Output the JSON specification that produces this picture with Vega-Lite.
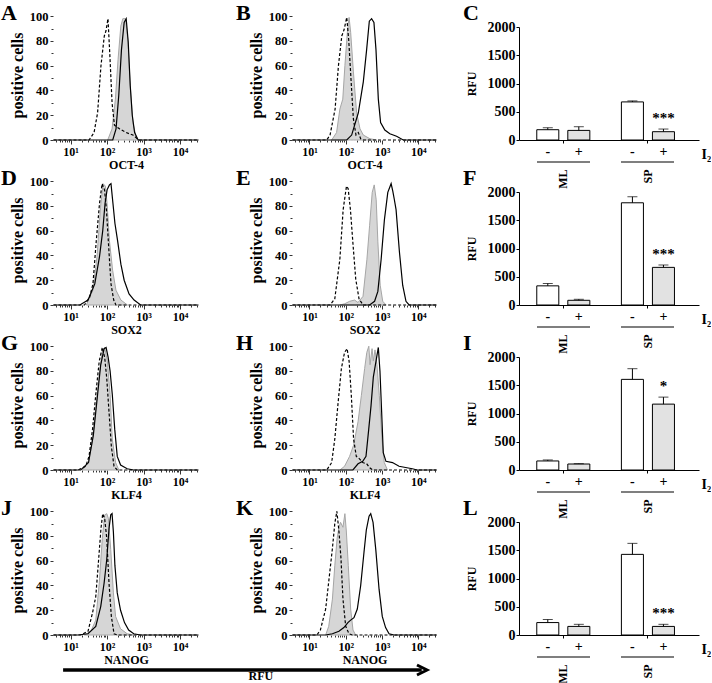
{
"$schema":"https://vega.github.io/schema/vega-lite/v6.json",
"padding":{"left":1,"top":2,"right":0,"bottom":0},
"datasets":{
"hist":[
{"p":"A","s":"d","x":3.4,"y":0},{"p":"A","s":"d","x":32,"y":0},{"p":"A","s":"d","x":44,"y":6},{"p":"A","s":"d","x":55,"y":22},{"p":"A","s":"d","x":68,"y":60},{"p":"A","s":"d","x":84,"y":84},{"p":"A","s":"d","x":93,"y":88},{"p":"A","s":"d","x":106,"y":98},{"p":"A","s":"d","x":118,"y":71},{"p":"A","s":"d","x":137,"y":30},{"p":"A","s":"d","x":159,"y":12},{"p":"A","s":"d","x":219,"y":9},{"p":"A","s":"d","x":334,"y":6},{"p":"A","s":"d","x":510,"y":4},{"p":"A","s":"d","x":747,"y":0},{"p":"A","s":"d","x":32000,"y":0},
{"p":"A","s":"g","x":104,"y":0},{"p":"A","s":"g","x":137,"y":9},{"p":"A","s":"g","x":169,"y":33},{"p":"A","s":"g","x":200,"y":65},{"p":"A","s":"g","x":238,"y":92},{"p":"A","s":"g","x":270,"y":98},{"p":"A","s":"g","x":320,"y":98},{"p":"A","s":"g","x":371,"y":81},{"p":"A","s":"g","x":431,"y":44},{"p":"A","s":"g","x":510,"y":14},{"p":"A","s":"g","x":631,"y":2},{"p":"A","s":"g","x":747,"y":0},
{"p":"A","s":"s","x":3.4,"y":0},{"p":"A","s":"s","x":143,"y":0},{"p":"A","s":"s","x":176,"y":9},{"p":"A","s":"s","x":209,"y":36},{"p":"A","s":"s","x":248,"y":73},{"p":"A","s":"s","x":294,"y":95},{"p":"A","s":"s","x":334,"y":98},{"p":"A","s":"s","x":380,"y":79},{"p":"A","s":"s","x":431,"y":44},{"p":"A","s":"s","x":490,"y":20},{"p":"A","s":"s","x":568,"y":6},{"p":"A","s":"s","x":709,"y":0},{"p":"A","s":"s","x":32000,"y":0},
{"p":"B","s":"d","x":3.4,"y":0},{"p":"B","s":"d","x":30,"y":0},{"p":"B","s":"d","x":37,"y":4},{"p":"B","s":"d","x":51,"y":25},{"p":"B","s":"d","x":63,"y":60},{"p":"B","s":"d","x":78,"y":84},{"p":"B","s":"d","x":90,"y":89},{"p":"B","s":"d","x":107,"y":99},{"p":"B","s":"d","x":121,"y":81},{"p":"B","s":"d","x":140,"y":49},{"p":"B","s":"d","x":163,"y":17},{"p":"B","s":"d","x":192,"y":4},{"p":"B","s":"d","x":223,"y":6},{"p":"B","s":"d","x":259,"y":1},{"p":"B","s":"d","x":306,"y":0},{"p":"B","s":"d","x":32000,"y":0},
{"p":"B","s":"g","x":41,"y":0},{"p":"B","s":"g","x":56,"y":6},{"p":"B","s":"g","x":69,"y":25},{"p":"B","s":"g","x":83,"y":33},{"p":"B","s":"g","x":95,"y":60},{"p":"B","s":"g","x":111,"y":87},{"p":"B","s":"g","x":124,"y":99},{"p":"B","s":"g","x":137,"y":87},{"p":"B","s":"g","x":163,"y":55},{"p":"B","s":"g","x":200,"y":22},{"p":"B","s":"g","x":248,"y":9},{"p":"B","s":"g","x":306,"y":4},{"p":"B","s":"g","x":468,"y":1},{"p":"B","s":"g","x":713,"y":0},
{"p":"B","s":"s","x":3.4,"y":0},{"p":"B","s":"s","x":107,"y":0},{"p":"B","s":"s","x":146,"y":4},{"p":"B","s":"s","x":223,"y":22},{"p":"B","s":"s","x":306,"y":47},{"p":"B","s":"s","x":378,"y":73},{"p":"B","s":"s","x":448,"y":96},{"p":"B","s":"s","x":518,"y":98},{"p":"B","s":"s","x":601,"y":95},{"p":"B","s":"s","x":684,"y":73},{"p":"B","s":"s","x":794,"y":33},{"p":"B","s":"s","x":917,"y":14},{"p":"B","s":"s","x":1200,"y":8},{"p":"B","s":"s","x":1650,"y":5},{"p":"B","s":"s","x":2530,"y":3},{"p":"B","s":"s","x":3860,"y":0},{"p":"B","s":"s","x":32000,"y":0},
{"p":"D","s":"d","x":3.4,"y":0},{"p":"D","s":"d","x":24,"y":0},{"p":"D","s":"d","x":33,"y":6},{"p":"D","s":"d","x":41,"y":17},{"p":"D","s":"d","x":50,"y":50},{"p":"D","s":"d","x":62,"y":82},{"p":"D","s":"d","x":73,"y":98},{"p":"D","s":"d","x":85,"y":93},{"p":"D","s":"d","x":96,"y":77},{"p":"D","s":"d","x":109,"y":50},{"p":"D","s":"d","x":128,"y":17},{"p":"D","s":"d","x":152,"y":4},{"p":"D","s":"d","x":175,"y":0},{"p":"D","s":"d","x":32000,"y":0},
{"p":"D","s":"g","x":27,"y":0},{"p":"D","s":"g","x":41,"y":12},{"p":"D","s":"g","x":53,"y":39},{"p":"D","s":"g","x":66,"y":79},{"p":"D","s":"g","x":78,"y":98},{"p":"D","s":"g","x":90,"y":96},{"p":"D","s":"g","x":100,"y":82},{"p":"D","s":"g","x":116,"y":52},{"p":"D","s":"g","x":142,"y":28},{"p":"D","s":"g","x":175,"y":12},{"p":"D","s":"g","x":239,"y":4},{"p":"D","s":"g","x":363,"y":0},
{"p":"D","s":"s","x":3.4,"y":0},{"p":"D","s":"s","x":18,"y":0},{"p":"D","s":"s","x":30,"y":4},{"p":"D","s":"s","x":46,"y":17},{"p":"D","s":"s","x":62,"y":39},{"p":"D","s":"s","x":76,"y":60},{"p":"D","s":"s","x":88,"y":82},{"p":"D","s":"s","x":100,"y":93},{"p":"D","s":"s","x":116,"y":97},{"p":"D","s":"s","x":128,"y":98},{"p":"D","s":"s","x":145,"y":82},{"p":"D","s":"s","x":164,"y":66},{"p":"D","s":"s","x":194,"y":52},{"p":"D","s":"s","x":239,"y":33},{"p":"D","s":"s","x":294,"y":20},{"p":"D","s":"s","x":400,"y":9},{"p":"D","s":"s","x":550,"y":4},{"p":"D","s":"s","x":830,"y":0},{"p":"D","s":"s","x":32000,"y":0},
{"p":"E","s":"d","x":3.4,"y":0},{"p":"E","s":"d","x":37,"y":0},{"p":"E","s":"d","x":50,"y":5},{"p":"E","s":"d","x":69,"y":37},{"p":"E","s":"d","x":85,"y":77},{"p":"E","s":"d","x":105,"y":96},{"p":"E","s":"d","x":117,"y":94},{"p":"E","s":"d","x":135,"y":77},{"p":"E","s":"d","x":160,"y":48},{"p":"E","s":"d","x":189,"y":21},{"p":"E","s":"d","x":233,"y":5},{"p":"E","s":"d","x":300,"y":0},{"p":"E","s":"d","x":32000,"y":0},
{"p":"E","s":"g","x":69,"y":0},{"p":"E","s":"g","x":94,"y":1},{"p":"E","s":"g","x":129,"y":3},{"p":"E","s":"g","x":176,"y":4},{"p":"E","s":"g","x":219,"y":2},{"p":"E","s":"g","x":300,"y":7},{"p":"E","s":"g","x":385,"y":37},{"p":"E","s":"g","x":456,"y":64},{"p":"E","s":"g","x":539,"y":91},{"p":"E","s":"g","x":612,"y":97},{"p":"E","s":"g","x":694,"y":85},{"p":"E","s":"g","x":771,"y":51},{"p":"E","s":"g","x":894,"y":16},{"p":"E","s":"g","x":1050,"y":3},{"p":"E","s":"g","x":1300,"y":0},
{"p":"E","s":"s","x":3.4,"y":0},{"p":"E","s":"s","x":456,"y":0},{"p":"E","s":"s","x":626,"y":3},{"p":"E","s":"s","x":771,"y":11},{"p":"E","s":"s","x":950,"y":37},{"p":"E","s":"s","x":1170,"y":69},{"p":"E","s":"s","x":1450,"y":91},{"p":"E","s":"s","x":1790,"y":98},{"p":"E","s":"s","x":1990,"y":92},{"p":"E","s":"s","x":2200,"y":85},{"p":"E","s":"s","x":2450,"y":77},{"p":"E","s":"s","x":3030,"y":43},{"p":"E","s":"s","x":3730,"y":16},{"p":"E","s":"s","x":4600,"y":3},{"p":"E","s":"s","x":5600,"y":0},{"p":"E","s":"s","x":32000,"y":0},
{"p":"G","s":"d","x":3.4,"y":0},{"p":"G","s":"d","x":16,"y":0},{"p":"G","s":"d","x":26,"y":3},{"p":"G","s":"d","x":32,"y":11},{"p":"G","s":"d","x":40,"y":33},{"p":"G","s":"d","x":49,"y":61},{"p":"G","s":"d","x":61,"y":88},{"p":"G","s":"d","x":74,"y":99},{"p":"G","s":"d","x":86,"y":91},{"p":"G","s":"d","x":98,"y":74},{"p":"G","s":"d","x":113,"y":47},{"p":"G","s":"d","x":131,"y":19},{"p":"G","s":"d","x":155,"y":3},{"p":"G","s":"d","x":190,"y":0},{"p":"G","s":"d","x":32000,"y":0},
{"p":"G","s":"g","x":21,"y":0},{"p":"G","s":"g","x":31,"y":6},{"p":"G","s":"g","x":40,"y":25},{"p":"G","s":"g","x":49,"y":50},{"p":"G","s":"g","x":61,"y":77},{"p":"G","s":"g","x":74,"y":96},{"p":"G","s":"g","x":86,"y":99},{"p":"G","s":"g","x":102,"y":88},{"p":"G","s":"g","x":121,"y":61},{"p":"G","s":"g","x":139,"y":25},{"p":"G","s":"g","x":171,"y":6},{"p":"G","s":"g","x":210,"y":0},
{"p":"G","s":"s","x":3.4,"y":0},{"p":"G","s":"s","x":19,"y":0},{"p":"G","s":"s","x":31,"y":6},{"p":"G","s":"s","x":42,"y":28},{"p":"G","s":"s","x":55,"y":61},{"p":"G","s":"s","x":67,"y":85},{"p":"G","s":"s","x":83,"y":98},{"p":"G","s":"s","x":94,"y":99},{"p":"G","s":"s","x":107,"y":91},{"p":"G","s":"s","x":121,"y":80},{"p":"G","s":"s","x":139,"y":61},{"p":"G","s":"s","x":162,"y":33},{"p":"G","s":"s","x":190,"y":11},{"p":"G","s":"s","x":235,"y":4},{"p":"G","s":"s","x":355,"y":1},{"p":"G","s":"s","x":537,"y":0},{"p":"G","s":"s","x":32000,"y":0},
{"p":"H","s":"d","x":3.4,"y":0},{"p":"H","s":"d","x":30,"y":0},{"p":"H","s":"d","x":41,"y":6},{"p":"H","s":"d","x":50,"y":25},{"p":"H","s":"d","x":62,"y":55},{"p":"H","s":"d","x":76,"y":82},{"p":"H","s":"d","x":93,"y":95},{"p":"H","s":"d","x":109,"y":98},{"p":"H","s":"d","x":124,"y":88},{"p":"H","s":"d","x":143,"y":60},{"p":"H","s":"d","x":165,"y":25},{"p":"H","s":"d","x":196,"y":11},{"p":"H","s":"d","x":240,"y":9},{"p":"H","s":"d","x":295,"y":6},{"p":"H","s":"d","x":380,"y":5},{"p":"H","s":"d","x":450,"y":2},{"p":"H","s":"d","x":556,"y":0},{"p":"H","s":"d","x":32000,"y":0},
{"p":"H","s":"g","x":69,"y":0},{"p":"H","s":"g","x":93,"y":3},{"p":"H","s":"g","x":128,"y":11},{"p":"H","s":"g","x":165,"y":20},{"p":"H","s":"g","x":219,"y":39},{"p":"H","s":"g","x":270,"y":60},{"p":"H","s":"g","x":333,"y":82},{"p":"H","s":"g","x":382,"y":95},{"p":"H","s":"g","x":434,"y":100},{"p":"H","s":"g","x":470,"y":85},{"p":"H","s":"g","x":533,"y":98},{"p":"H","s":"g","x":578,"y":88},{"p":"H","s":"g","x":643,"y":97},{"p":"H","s":"g","x":728,"y":85},{"p":"H","s":"g","x":846,"y":60},{"p":"H","s":"g","x":1000,"y":25},{"p":"H","s":"g","x":1160,"y":6},{"p":"H","s":"g","x":1420,"y":0},
{"p":"H","s":"s","x":3.4,"y":0},{"p":"H","s":"s","x":158,"y":0},{"p":"H","s":"s","x":219,"y":5},{"p":"H","s":"s","x":295,"y":7},{"p":"H","s":"s","x":363,"y":11},{"p":"H","s":"s","x":432,"y":33},{"p":"H","s":"s","x":500,"y":52},{"p":"H","s":"s","x":578,"y":75},{"p":"H","s":"s","x":686,"y":88},{"p":"H","s":"s","x":794,"y":99},{"p":"H","s":"s","x":881,"y":80},{"p":"H","s":"s","x":980,"y":47},{"p":"H","s":"s","x":1087,"y":14},{"p":"H","s":"s","x":1290,"y":7},{"p":"H","s":"s","x":1950,"y":6},{"p":"H","s":"s","x":2960,"y":3},{"p":"H","s":"s","x":4490,"y":2},{"p":"H","s":"s","x":6870,"y":1},{"p":"H","s":"s","x":9400,"y":0},{"p":"H","s":"s","x":32000,"y":0},
{"p":"J","s":"d","x":3.4,"y":0},{"p":"J","s":"d","x":19,"y":0},{"p":"J","s":"d","x":30,"y":3},{"p":"J","s":"d","x":40,"y":18},{"p":"J","s":"d","x":49,"y":31},{"p":"J","s":"d","x":57,"y":56},{"p":"J","s":"d","x":68,"y":86},{"p":"J","s":"d","x":76,"y":98},{"p":"J","s":"d","x":86,"y":94},{"p":"J","s":"d","x":98,"y":78},{"p":"J","s":"d","x":113,"y":42},{"p":"J","s":"d","x":131,"y":15},{"p":"J","s":"d","x":155,"y":1},{"p":"J","s":"d","x":190,"y":0},{"p":"J","s":"d","x":32000,"y":0},
{"p":"J","s":"g","x":24,"y":0},{"p":"J","s":"g","x":36,"y":3},{"p":"J","s":"g","x":49,"y":12},{"p":"J","s":"g","x":61,"y":42},{"p":"J","s":"g","x":74,"y":78},{"p":"J","s":"g","x":86,"y":97},{"p":"J","s":"g","x":98,"y":98},{"p":"J","s":"g","x":109,"y":94},{"p":"J","s":"g","x":126,"y":69},{"p":"J","s":"g","x":149,"y":34},{"p":"J","s":"g","x":171,"y":15},{"p":"J","s":"g","x":234,"y":5},{"p":"J","s":"g","x":355,"y":1},{"p":"J","s":"g","x":537,"y":0},
{"p":"J","s":"s","x":3.4,"y":0},{"p":"J","s":"s","x":16,"y":0},{"p":"J","s":"s","x":30,"y":1},{"p":"J","s":"s","x":49,"y":7},{"p":"J","s":"s","x":67,"y":23},{"p":"J","s":"s","x":83,"y":42},{"p":"J","s":"s","x":98,"y":61},{"p":"J","s":"s","x":113,"y":86},{"p":"J","s":"s","x":126,"y":97},{"p":"J","s":"s","x":137,"y":98},{"p":"J","s":"s","x":149,"y":83},{"p":"J","s":"s","x":164,"y":56},{"p":"J","s":"s","x":190,"y":34},{"p":"J","s":"s","x":234,"y":20},{"p":"J","s":"s","x":300,"y":10},{"p":"J","s":"s","x":390,"y":4},{"p":"J","s":"s","x":537,"y":1},{"p":"J","s":"s","x":814,"y":0},{"p":"J","s":"s","x":32000,"y":0},
{"p":"K","s":"d","x":3.4,"y":0},{"p":"K","s":"d","x":16,"y":0},{"p":"K","s":"d","x":20,"y":4},{"p":"K","s":"d","x":28,"y":21},{"p":"K","s":"d","x":34,"y":43},{"p":"K","s":"d","x":43,"y":70},{"p":"K","s":"d","x":50,"y":90},{"p":"K","s":"d","x":57,"y":100},{"p":"K","s":"d","x":65,"y":84},{"p":"K","s":"d","x":74,"y":62},{"p":"K","s":"d","x":84,"y":29},{"p":"K","s":"d","x":100,"y":7},{"p":"K","s":"d","x":123,"y":1},{"p":"K","s":"d","x":152,"y":0},{"p":"K","s":"d","x":32000,"y":0},
{"p":"K","s":"g","x":28,"y":0},{"p":"K","s":"g","x":34,"y":7},{"p":"K","s":"g","x":43,"y":29},{"p":"K","s":"g","x":50,"y":56},{"p":"K","s":"g","x":58,"y":78},{"p":"K","s":"g","x":65,"y":87},{"p":"K","s":"g","x":72,"y":91},{"p":"K","s":"g","x":84,"y":87},{"p":"K","s":"g","x":95,"y":98},{"p":"K","s":"g","x":104,"y":84},{"p":"K","s":"g","x":118,"y":56},{"p":"K","s":"g","x":137,"y":21},{"p":"K","s":"g","x":159,"y":4},{"p":"K","s":"g","x":188,"y":0},
{"p":"K","s":"s","x":3.4,"y":0},{"p":"K","s":"s","x":28,"y":0},{"p":"K","s":"s","x":43,"y":1},{"p":"K","s":"s","x":65,"y":3},{"p":"K","s":"s","x":89,"y":6},{"p":"K","s":"s","x":115,"y":10},{"p":"K","s":"s","x":137,"y":12},{"p":"K","s":"s","x":169,"y":14},{"p":"K","s":"s","x":209,"y":21},{"p":"K","s":"s","x":259,"y":40},{"p":"K","s":"s","x":320,"y":67},{"p":"K","s":"s","x":371,"y":85},{"p":"K","s":"s","x":441,"y":96},{"p":"K","s":"s","x":490,"y":98},{"p":"K","s":"s","x":568,"y":91},{"p":"K","s":"s","x":676,"y":69},{"p":"K","s":"s","x":832,"y":37},{"p":"K","s":"s","x":1020,"y":15},{"p":"K","s":"s","x":1260,"y":6},{"p":"K","s":"s","x":1570,"y":1},{"p":"K","s":"s","x":2170,"y":0},{"p":"K","s":"s","x":32000,"y":0}
],
"bars":[
{"p":"C","g":"ML","t":"-","v":182,"e":217,"sig":""},{"p":"C","g":"ML","t":"+","v":170,"e":235,"sig":""},{"p":"C","g":"SP","t":"-","v":674,"e":692,"sig":""},{"p":"C","g":"SP","t":"+","v":147,"e":194,"sig":"***"},
{"p":"F","g":"ML","t":"-","v":339,"e":381,"sig":""},{"p":"F","g":"ML","t":"+","v":83,"e":101,"sig":""},{"p":"F","g":"SP","t":"-","v":1809,"e":1916,"sig":""},{"p":"F","g":"SP","t":"+","v":666,"e":708,"sig":"***"},
{"p":"I","g":"ML","t":"-","v":160,"e":178,"sig":""},{"p":"I","g":"ML","t":"+","v":106,"e":112,"sig":""},{"p":"I","g":"SP","t":"-","v":1604,"e":1793,"sig":""},{"p":"I","g":"SP","t":"+","v":1166,"e":1290,"sig":"*"},
{"p":"L","g":"ML","t":"-","v":220,"e":274,"sig":""},{"p":"L","g":"ML","t":"+","v":152,"e":189,"sig":""},{"p":"L","g":"SP","t":"-","v":1427,"e":1622,"sig":""},{"p":"L","g":"SP","t":"+","v":152,"e":189,"sig":"***"}
]
},
"concat":[
{"width":157,"height":130,"title":{"text":"A","dx":-52,"dy":19},
"encoding":{"x":{"field":"x","type":"quantitative","scale":{"type":"log","domain":[3.3,33000],"nice":false,"range":[0,146]},"axis":{"title":"OCT-4","titleFontSize":12,"titlePadding":2,"values":[4,5,6,7,8,9,10,20,30,40,50,60,70,80,90,100,200,300,400,500,600,700,800,900,1000,2000,3000,4000,5000,6000,7000,8000,9000,10000,20000,30000],"labelExpr":"datum.value==10?'10¹':datum.value==100?'10²':datum.value==1000?'10³':datum.value==10000?'10⁴':''","labelFontSize":12,"labelPadding":2,"domain":false,"tickSize":{"condition":{"test":"indexof([10,100,1000,10000],datum.value)<0","value":2},"value":4},"tickWidth":0.8}},
"y":{"field":"y","type":"quantitative","scale":{"domain":[0,105],"nice":false},"axis":{"title":"positive cells","titleFontSize":16,"titlePadding":4,"values":[0,10,20,30,40,50,60,70,80,90,100],"labelExpr":"datum.value%20==0?datum.label:''","labelFontSize":12.5,"labelPadding":2,"domain":false,"tickSize":{"condition":{"test":"datum.value%20!=0","value":2},"value":3},"tickWidth":0.8}}},
"layer":[
{"data":{"values":[{"f":1}]},"mark":{"type":"rect","filled":false,"color":"#a0a0a0","strokeWidth":1},"encoding":{"x":{"datum":3.3,"type":"quantitative"},"x2":{"datum":33000},"y":{"datum":0,"type":"quantitative"},"y2":{"datum":105}}},
{"data":{"name":"hist"},"transform":[{"filter":"datum.p=='A' && datum.s=='g'"}],"mark":{"type":"area","fill":"#d6d6d6","stroke":"#a6a6a6","strokeWidth":1},"encoding":{}},
{"data":{"name":"hist"},"transform":[{"filter":"datum.p=='A' && datum.s=='d'"}],"mark":{"type":"line","stroke":"black","strokeWidth":1.2,"strokeDash":[3,2]},"encoding":{}},
{"data":{"name":"hist"},"transform":[{"filter":"datum.p=='A' && datum.s=='s'"}],"mark":{"type":"line","stroke":"black","strokeWidth":1.2},"encoding":{}}]},
{"width":145,"height":130,"title":{"text":"B","dx":-56,"dy":19},
"encoding":{"x":{"field":"x","type":"quantitative","scale":{"type":"log","domain":[3.3,33000],"nice":false},"axis":{"title":"OCT-4","titleFontSize":12,"titlePadding":2,"values":[4,5,6,7,8,9,10,20,30,40,50,60,70,80,90,100,200,300,400,500,600,700,800,900,1000,2000,3000,4000,5000,6000,7000,8000,9000,10000,20000,30000],"labelExpr":"datum.value==10?'10¹':datum.value==100?'10²':datum.value==1000?'10³':datum.value==10000?'10⁴':''","labelFontSize":12,"labelPadding":2,"domain":false,"tickSize":{"condition":{"test":"indexof([10,100,1000,10000],datum.value)<0","value":2},"value":4},"tickWidth":0.8}},
"y":{"field":"y","type":"quantitative","scale":{"domain":[0,105],"nice":false},"axis":{"title":"positive cells","titleFontSize":16,"titlePadding":4,"values":[0,10,20,30,40,50,60,70,80,90,100],"labelExpr":"datum.value%20==0?datum.label:''","labelFontSize":12.5,"labelPadding":2,"domain":false,"tickSize":{"condition":{"test":"datum.value%20!=0","value":2},"value":3},"tickWidth":0.8}}},
"layer":[
{"data":{"values":[{"f":1}]},"mark":{"type":"rect","filled":false,"color":"#a0a0a0","strokeWidth":1},"encoding":{"x":{"datum":3.3,"type":"quantitative"},"x2":{"datum":33000},"y":{"datum":0,"type":"quantitative"},"y2":{"datum":105}}},
{"data":{"name":"hist"},"transform":[{"filter":"datum.p=='B' && datum.s=='g'"}],"mark":{"type":"area","fill":"#d6d6d6","stroke":"#a6a6a6","strokeWidth":1},"encoding":{}},
{"data":{"name":"hist"},"transform":[{"filter":"datum.p=='B' && datum.s=='d'"}],"mark":{"type":"line","stroke":"black","strokeWidth":1.2,"strokeDash":[3,2]},"encoding":{}},
{"data":{"name":"hist"},"transform":[{"filter":"datum.p=='B' && datum.s=='s'"}],"mark":{"type":"line","stroke":"black","strokeWidth":1.2},"encoding":{}}]},
{"width":180,"height":130,"title":{"text":"C","dx":-56,"dy":19},"data":{"name":"bars"},"transform":[{"filter":"datum.p=='C'"}],"resolve":{"axis":{"x":"independent"}},
"layer":[
{"mark":{"type":"bar","stroke":"black","strokeWidth":1},"encoding":{"x":{"field":"g","type":"nominal","scale":{"domain":["ML","SP"],"paddingInner":0.373,"paddingOuter":0.25,"align":0.42},"axis":{"orient":"bottom","labels":false,"tickSize":3,"bandPosition":0.5,"title":"I₂","titleFontSize":14,"titleX":182,"titleY":14,"titleAlign":"left","titleBaseline":"middle"}},"xOffset":{"field":"t","type":"nominal","scale":{"domain":["-","+"],"paddingInner":0.29,"paddingOuter":0}},"y":{"field":"v","type":"quantitative","scale":{"domain":[0,2000],"range":[130,17],"nice":false},"axis":{"values":[0,500,1000,1500,2000],"format":"d","title":"RFU","titleFontSize":12,"titlePadding":9,"labelFontSize":14,"tickSize":3,"labelPadding":1}},"fill":{"field":"t","type":"nominal","scale":{"domain":["-","+"],"range":["white","#e2e2e2"]},"legend":null}}},
{"mark":{"type":"rule","color":"black","strokeWidth":1},"encoding":{"x":{"field":"g","type":"nominal","axis":null},"xOffset":{"field":"t","type":"nominal"},"y":{"field":"v","type":"quantitative","axis":{"values":[0,500,1000,1500,2000],"format":"d","title":"RFU","titleFontSize":12,"titlePadding":9,"labelFontSize":14,"tickSize":3,"labelPadding":1}},"y2":{"field":"e"}}},
{"mark":{"type":"tick","color":"black","thickness":1,"size":10},"encoding":{"x":{"field":"g","type":"nominal","axis":null},"xOffset":{"field":"t","type":"nominal"},"y":{"field":"e","type":"quantitative","axis":{"values":[0,500,1000,1500,2000],"format":"d","title":"RFU","titleFontSize":12,"titlePadding":9,"labelFontSize":14,"tickSize":3,"labelPadding":1}}}},
{"mark":{"type":"text","baseline":"middle","dy":-11,"fontSize":15,"fontWeight":"bold","font":"Liberation Serif"},"encoding":{"x":{"field":"g","type":"nominal","axis":null},"xOffset":{"field":"t","type":"nominal"},"y":{"field":"e","type":"quantitative","axis":{"values":[0,500,1000,1500,2000],"format":"d","title":"RFU","titleFontSize":12,"titlePadding":9,"labelFontSize":14,"tickSize":3,"labelPadding":1}},"text":{"field":"sig"}}},
{"mark":{"type":"text","baseline":"middle","dy":12,"fontSize":14,"fontWeight":"bold","font":"Liberation Serif"},"encoding":{"x":{"field":"g","type":"nominal","axis":{"orient":"bottom","offset":21,"domain":false,"ticks":true,"tickSize":1,"tickWidth":53,"tickCap":"butt","bandPosition":0.5,"labelAngle":-90,"labelAlign":"right","labelBaseline":"middle","labelPadding":7,"labelFontSize":12,"title":null}},"xOffset":{"field":"t","type":"nominal"},"y":{"datum":0,"type":"quantitative","axis":{"values":[0,500,1000,1500,2000],"format":"d","title":"RFU","titleFontSize":12,"titlePadding":9,"labelFontSize":14,"tickSize":3,"labelPadding":1}},"text":{"field":"t"}}}
]},
{"width":157,"height":130,"title":{"text":"D","dx":-52,"dy":19},
"encoding":{"x":{"field":"x","type":"quantitative","scale":{"type":"log","domain":[3.3,33000],"nice":false,"range":[0,146]},"axis":{"title":"SOX2","titleFontSize":12,"titlePadding":2,"values":[4,5,6,7,8,9,10,20,30,40,50,60,70,80,90,100,200,300,400,500,600,700,800,900,1000,2000,3000,4000,5000,6000,7000,8000,9000,10000,20000,30000],"labelExpr":"datum.value==10?'10¹':datum.value==100?'10²':datum.value==1000?'10³':datum.value==10000?'10⁴':''","labelFontSize":12,"labelPadding":2,"domain":false,"tickSize":{"condition":{"test":"indexof([10,100,1000,10000],datum.value)<0","value":2},"value":4},"tickWidth":0.8}},
"y":{"field":"y","type":"quantitative","scale":{"domain":[0,105],"nice":false},"axis":{"title":"positive cells","titleFontSize":16,"titlePadding":4,"values":[0,10,20,30,40,50,60,70,80,90,100],"labelExpr":"datum.value%20==0?datum.label:''","labelFontSize":12.5,"labelPadding":2,"domain":false,"tickSize":{"condition":{"test":"datum.value%20!=0","value":2},"value":3},"tickWidth":0.8}}},
"layer":[
{"data":{"values":[{"f":1}]},"mark":{"type":"rect","filled":false,"color":"#a0a0a0","strokeWidth":1},"encoding":{"x":{"datum":3.3,"type":"quantitative"},"x2":{"datum":33000},"y":{"datum":0,"type":"quantitative"},"y2":{"datum":105}}},
{"data":{"name":"hist"},"transform":[{"filter":"datum.p=='D' && datum.s=='g'"}],"mark":{"type":"area","fill":"#d6d6d6","stroke":"#a6a6a6","strokeWidth":1},"encoding":{}},
{"data":{"name":"hist"},"transform":[{"filter":"datum.p=='D' && datum.s=='d'"}],"mark":{"type":"line","stroke":"black","strokeWidth":1.2,"strokeDash":[3,2]},"encoding":{}},
{"data":{"name":"hist"},"transform":[{"filter":"datum.p=='D' && datum.s=='s'"}],"mark":{"type":"line","stroke":"black","strokeWidth":1.2},"encoding":{}}]},
{"width":145,"height":130,"title":{"text":"E","dx":-56,"dy":19},
"encoding":{"x":{"field":"x","type":"quantitative","scale":{"type":"log","domain":[3.3,33000],"nice":false},"axis":{"title":"SOX2","titleFontSize":12,"titlePadding":2,"values":[4,5,6,7,8,9,10,20,30,40,50,60,70,80,90,100,200,300,400,500,600,700,800,900,1000,2000,3000,4000,5000,6000,7000,8000,9000,10000,20000,30000],"labelExpr":"datum.value==10?'10¹':datum.value==100?'10²':datum.value==1000?'10³':datum.value==10000?'10⁴':''","labelFontSize":12,"labelPadding":2,"domain":false,"tickSize":{"condition":{"test":"indexof([10,100,1000,10000],datum.value)<0","value":2},"value":4},"tickWidth":0.8}},
"y":{"field":"y","type":"quantitative","scale":{"domain":[0,105],"nice":false},"axis":{"title":"positive cells","titleFontSize":16,"titlePadding":4,"values":[0,10,20,30,40,50,60,70,80,90,100],"labelExpr":"datum.value%20==0?datum.label:''","labelFontSize":12.5,"labelPadding":2,"domain":false,"tickSize":{"condition":{"test":"datum.value%20!=0","value":2},"value":3},"tickWidth":0.8}}},
"layer":[
{"data":{"values":[{"f":1}]},"mark":{"type":"rect","filled":false,"color":"#a0a0a0","strokeWidth":1},"encoding":{"x":{"datum":3.3,"type":"quantitative"},"x2":{"datum":33000},"y":{"datum":0,"type":"quantitative"},"y2":{"datum":105}}},
{"data":{"name":"hist"},"transform":[{"filter":"datum.p=='E' && datum.s=='g'"}],"mark":{"type":"area","fill":"#d6d6d6","stroke":"#a6a6a6","strokeWidth":1},"encoding":{}},
{"data":{"name":"hist"},"transform":[{"filter":"datum.p=='E' && datum.s=='d'"}],"mark":{"type":"line","stroke":"black","strokeWidth":1.2,"strokeDash":[3,2]},"encoding":{}},
{"data":{"name":"hist"},"transform":[{"filter":"datum.p=='E' && datum.s=='s'"}],"mark":{"type":"line","stroke":"black","strokeWidth":1.2},"encoding":{}}]},
{"width":180,"height":130,"title":{"text":"F","dx":-56,"dy":19},"data":{"name":"bars"},"transform":[{"filter":"datum.p=='F'"}],"resolve":{"axis":{"x":"independent"}},
"layer":[
{"mark":{"type":"bar","stroke":"black","strokeWidth":1},"encoding":{"x":{"field":"g","type":"nominal","scale":{"domain":["ML","SP"],"paddingInner":0.373,"paddingOuter":0.25,"align":0.42},"axis":{"orient":"bottom","labels":false,"tickSize":3,"bandPosition":0.5,"title":"I₂","titleFontSize":14,"titleX":182,"titleY":14,"titleAlign":"left","titleBaseline":"middle"}},"xOffset":{"field":"t","type":"nominal","scale":{"domain":["-","+"],"paddingInner":0.29,"paddingOuter":0}},"y":{"field":"v","type":"quantitative","scale":{"domain":[0,2000],"range":[130,17],"nice":false},"axis":{"values":[0,500,1000,1500,2000],"format":"d","title":"RFU","titleFontSize":12,"titlePadding":9,"labelFontSize":14,"tickSize":3,"labelPadding":1}},"fill":{"field":"t","type":"nominal","scale":{"domain":["-","+"],"range":["white","#e2e2e2"]},"legend":null}}},
{"mark":{"type":"rule","color":"black","strokeWidth":1},"encoding":{"x":{"field":"g","type":"nominal","axis":null},"xOffset":{"field":"t","type":"nominal"},"y":{"field":"v","type":"quantitative","axis":{"values":[0,500,1000,1500,2000],"format":"d","title":"RFU","titleFontSize":12,"titlePadding":9,"labelFontSize":14,"tickSize":3,"labelPadding":1}},"y2":{"field":"e"}}},
{"mark":{"type":"tick","color":"black","thickness":1,"size":10},"encoding":{"x":{"field":"g","type":"nominal","axis":null},"xOffset":{"field":"t","type":"nominal"},"y":{"field":"e","type":"quantitative","axis":{"values":[0,500,1000,1500,2000],"format":"d","title":"RFU","titleFontSize":12,"titlePadding":9,"labelFontSize":14,"tickSize":3,"labelPadding":1}}}},
{"mark":{"type":"text","baseline":"middle","dy":-11,"fontSize":15,"fontWeight":"bold","font":"Liberation Serif"},"encoding":{"x":{"field":"g","type":"nominal","axis":null},"xOffset":{"field":"t","type":"nominal"},"y":{"field":"e","type":"quantitative","axis":{"values":[0,500,1000,1500,2000],"format":"d","title":"RFU","titleFontSize":12,"titlePadding":9,"labelFontSize":14,"tickSize":3,"labelPadding":1}},"text":{"field":"sig"}}},
{"mark":{"type":"text","baseline":"middle","dy":12,"fontSize":14,"fontWeight":"bold","font":"Liberation Serif"},"encoding":{"x":{"field":"g","type":"nominal","axis":{"orient":"bottom","offset":21,"domain":false,"ticks":true,"tickSize":1,"tickWidth":53,"tickCap":"butt","bandPosition":0.5,"labelAngle":-90,"labelAlign":"right","labelBaseline":"middle","labelPadding":7,"labelFontSize":12,"title":null}},"xOffset":{"field":"t","type":"nominal"},"y":{"datum":0,"type":"quantitative","axis":{"values":[0,500,1000,1500,2000],"format":"d","title":"RFU","titleFontSize":12,"titlePadding":9,"labelFontSize":14,"tickSize":3,"labelPadding":1}},"text":{"field":"t"}}}
]},
{"width":157,"height":130,"title":{"text":"G","dx":-52,"dy":19},
"encoding":{"x":{"field":"x","type":"quantitative","scale":{"type":"log","domain":[3.3,33000],"nice":false,"range":[0,146]},"axis":{"title":"KLF4","titleFontSize":12,"titlePadding":2,"values":[4,5,6,7,8,9,10,20,30,40,50,60,70,80,90,100,200,300,400,500,600,700,800,900,1000,2000,3000,4000,5000,6000,7000,8000,9000,10000,20000,30000],"labelExpr":"datum.value==10?'10¹':datum.value==100?'10²':datum.value==1000?'10³':datum.value==10000?'10⁴':''","labelFontSize":12,"labelPadding":2,"domain":false,"tickSize":{"condition":{"test":"indexof([10,100,1000,10000],datum.value)<0","value":2},"value":4},"tickWidth":0.8}},
"y":{"field":"y","type":"quantitative","scale":{"domain":[0,105],"nice":false},"axis":{"title":"positive cells","titleFontSize":16,"titlePadding":4,"values":[0,10,20,30,40,50,60,70,80,90,100],"labelExpr":"datum.value%20==0?datum.label:''","labelFontSize":12.5,"labelPadding":2,"domain":false,"tickSize":{"condition":{"test":"datum.value%20!=0","value":2},"value":3},"tickWidth":0.8}}},
"layer":[
{"data":{"values":[{"f":1}]},"mark":{"type":"rect","filled":false,"color":"#a0a0a0","strokeWidth":1},"encoding":{"x":{"datum":3.3,"type":"quantitative"},"x2":{"datum":33000},"y":{"datum":0,"type":"quantitative"},"y2":{"datum":105}}},
{"data":{"name":"hist"},"transform":[{"filter":"datum.p=='G' && datum.s=='g'"}],"mark":{"type":"area","fill":"#d6d6d6","stroke":"#a6a6a6","strokeWidth":1},"encoding":{}},
{"data":{"name":"hist"},"transform":[{"filter":"datum.p=='G' && datum.s=='d'"}],"mark":{"type":"line","stroke":"black","strokeWidth":1.2,"strokeDash":[3,2]},"encoding":{}},
{"data":{"name":"hist"},"transform":[{"filter":"datum.p=='G' && datum.s=='s'"}],"mark":{"type":"line","stroke":"black","strokeWidth":1.2},"encoding":{}}]},
{"width":145,"height":130,"title":{"text":"H","dx":-56,"dy":19},
"encoding":{"x":{"field":"x","type":"quantitative","scale":{"type":"log","domain":[3.3,33000],"nice":false},"axis":{"title":"KLF4","titleFontSize":12,"titlePadding":2,"values":[4,5,6,7,8,9,10,20,30,40,50,60,70,80,90,100,200,300,400,500,600,700,800,900,1000,2000,3000,4000,5000,6000,7000,8000,9000,10000,20000,30000],"labelExpr":"datum.value==10?'10¹':datum.value==100?'10²':datum.value==1000?'10³':datum.value==10000?'10⁴':''","labelFontSize":12,"labelPadding":2,"domain":false,"tickSize":{"condition":{"test":"indexof([10,100,1000,10000],datum.value)<0","value":2},"value":4},"tickWidth":0.8}},
"y":{"field":"y","type":"quantitative","scale":{"domain":[0,105],"nice":false},"axis":{"title":"positive cells","titleFontSize":16,"titlePadding":4,"values":[0,10,20,30,40,50,60,70,80,90,100],"labelExpr":"datum.value%20==0?datum.label:''","labelFontSize":12.5,"labelPadding":2,"domain":false,"tickSize":{"condition":{"test":"datum.value%20!=0","value":2},"value":3},"tickWidth":0.8}}},
"layer":[
{"data":{"values":[{"f":1}]},"mark":{"type":"rect","filled":false,"color":"#a0a0a0","strokeWidth":1},"encoding":{"x":{"datum":3.3,"type":"quantitative"},"x2":{"datum":33000},"y":{"datum":0,"type":"quantitative"},"y2":{"datum":105}}},
{"data":{"name":"hist"},"transform":[{"filter":"datum.p=='H' && datum.s=='g'"}],"mark":{"type":"area","fill":"#d6d6d6","stroke":"#a6a6a6","strokeWidth":1},"encoding":{}},
{"data":{"name":"hist"},"transform":[{"filter":"datum.p=='H' && datum.s=='d'"}],"mark":{"type":"line","stroke":"black","strokeWidth":1.2,"strokeDash":[3,2]},"encoding":{}},
{"data":{"name":"hist"},"transform":[{"filter":"datum.p=='H' && datum.s=='s'"}],"mark":{"type":"line","stroke":"black","strokeWidth":1.2},"encoding":{}}]},
{"width":180,"height":130,"title":{"text":"I","dx":-56,"dy":19},"data":{"name":"bars"},"transform":[{"filter":"datum.p=='I'"}],"resolve":{"axis":{"x":"independent"}},
"layer":[
{"mark":{"type":"bar","stroke":"black","strokeWidth":1},"encoding":{"x":{"field":"g","type":"nominal","scale":{"domain":["ML","SP"],"paddingInner":0.373,"paddingOuter":0.25,"align":0.42},"axis":{"orient":"bottom","labels":false,"tickSize":3,"bandPosition":0.5,"title":"I₂","titleFontSize":14,"titleX":182,"titleY":14,"titleAlign":"left","titleBaseline":"middle"}},"xOffset":{"field":"t","type":"nominal","scale":{"domain":["-","+"],"paddingInner":0.29,"paddingOuter":0}},"y":{"field":"v","type":"quantitative","scale":{"domain":[0,2000],"range":[130,17],"nice":false},"axis":{"values":[0,500,1000,1500,2000],"format":"d","title":"RFU","titleFontSize":12,"titlePadding":9,"labelFontSize":14,"tickSize":3,"labelPadding":1}},"fill":{"field":"t","type":"nominal","scale":{"domain":["-","+"],"range":["white","#e2e2e2"]},"legend":null}}},
{"mark":{"type":"rule","color":"black","strokeWidth":1},"encoding":{"x":{"field":"g","type":"nominal","axis":null},"xOffset":{"field":"t","type":"nominal"},"y":{"field":"v","type":"quantitative","axis":{"values":[0,500,1000,1500,2000],"format":"d","title":"RFU","titleFontSize":12,"titlePadding":9,"labelFontSize":14,"tickSize":3,"labelPadding":1}},"y2":{"field":"e"}}},
{"mark":{"type":"tick","color":"black","thickness":1,"size":10},"encoding":{"x":{"field":"g","type":"nominal","axis":null},"xOffset":{"field":"t","type":"nominal"},"y":{"field":"e","type":"quantitative","axis":{"values":[0,500,1000,1500,2000],"format":"d","title":"RFU","titleFontSize":12,"titlePadding":9,"labelFontSize":14,"tickSize":3,"labelPadding":1}}}},
{"mark":{"type":"text","baseline":"middle","dy":-11,"fontSize":15,"fontWeight":"bold","font":"Liberation Serif"},"encoding":{"x":{"field":"g","type":"nominal","axis":null},"xOffset":{"field":"t","type":"nominal"},"y":{"field":"e","type":"quantitative","axis":{"values":[0,500,1000,1500,2000],"format":"d","title":"RFU","titleFontSize":12,"titlePadding":9,"labelFontSize":14,"tickSize":3,"labelPadding":1}},"text":{"field":"sig"}}},
{"mark":{"type":"text","baseline":"middle","dy":12,"fontSize":14,"fontWeight":"bold","font":"Liberation Serif"},"encoding":{"x":{"field":"g","type":"nominal","axis":{"orient":"bottom","offset":21,"domain":false,"ticks":true,"tickSize":1,"tickWidth":53,"tickCap":"butt","bandPosition":0.5,"labelAngle":-90,"labelAlign":"right","labelBaseline":"middle","labelPadding":7,"labelFontSize":12,"title":null}},"xOffset":{"field":"t","type":"nominal"},"y":{"datum":0,"type":"quantitative","axis":{"values":[0,500,1000,1500,2000],"format":"d","title":"RFU","titleFontSize":12,"titlePadding":9,"labelFontSize":14,"tickSize":3,"labelPadding":1}},"text":{"field":"t"}}}
]},
{"width":157,"height":130,"title":{"text":"J","dx":-52,"dy":19},
"encoding":{"x":{"field":"x","type":"quantitative","scale":{"type":"log","domain":[3.3,33000],"nice":false,"range":[0,146]},"axis":{"title":"NANOG","titleFontSize":12,"titlePadding":2,"values":[4,5,6,7,8,9,10,20,30,40,50,60,70,80,90,100,200,300,400,500,600,700,800,900,1000,2000,3000,4000,5000,6000,7000,8000,9000,10000,20000,30000],"labelExpr":"datum.value==10?'10¹':datum.value==100?'10²':datum.value==1000?'10³':datum.value==10000?'10⁴':''","labelFontSize":12,"labelPadding":2,"domain":false,"tickSize":{"condition":{"test":"indexof([10,100,1000,10000],datum.value)<0","value":2},"value":4},"tickWidth":0.8}},
"y":{"field":"y","type":"quantitative","scale":{"domain":[0,105],"nice":false},"axis":{"title":"positive cells","titleFontSize":16,"titlePadding":4,"values":[0,10,20,30,40,50,60,70,80,90,100],"labelExpr":"datum.value%20==0?datum.label:''","labelFontSize":12.5,"labelPadding":2,"domain":false,"tickSize":{"condition":{"test":"datum.value%20!=0","value":2},"value":3},"tickWidth":0.8}}},
"layer":[
{"data":{"values":[{"f":1}]},"mark":{"type":"rect","filled":false,"color":"#a0a0a0","strokeWidth":1},"encoding":{"x":{"datum":3.3,"type":"quantitative"},"x2":{"datum":33000},"y":{"datum":0,"type":"quantitative"},"y2":{"datum":105}}},
{"data":{"name":"hist"},"transform":[{"filter":"datum.p=='J' && datum.s=='g'"}],"mark":{"type":"area","fill":"#d6d6d6","stroke":"#a6a6a6","strokeWidth":1},"encoding":{}},
{"data":{"name":"hist"},"transform":[{"filter":"datum.p=='J' && datum.s=='d'"}],"mark":{"type":"line","stroke":"black","strokeWidth":1.2,"strokeDash":[3,2]},"encoding":{}},
{"data":{"name":"hist"},"transform":[{"filter":"datum.p=='J' && datum.s=='s'"}],"mark":{"type":"line","stroke":"black","strokeWidth":1.2},"encoding":{}}]},
{"width":145,"height":130,"title":{"text":"K","dx":-56,"dy":19},
"encoding":{"x":{"field":"x","type":"quantitative","scale":{"type":"log","domain":[3.3,33000],"nice":false},"axis":{"title":"NANOG","titleFontSize":12,"titlePadding":2,"values":[4,5,6,7,8,9,10,20,30,40,50,60,70,80,90,100,200,300,400,500,600,700,800,900,1000,2000,3000,4000,5000,6000,7000,8000,9000,10000,20000,30000],"labelExpr":"datum.value==10?'10¹':datum.value==100?'10²':datum.value==1000?'10³':datum.value==10000?'10⁴':''","labelFontSize":12,"labelPadding":2,"domain":false,"tickSize":{"condition":{"test":"indexof([10,100,1000,10000],datum.value)<0","value":2},"value":4},"tickWidth":0.8}},
"y":{"field":"y","type":"quantitative","scale":{"domain":[0,105],"nice":false},"axis":{"title":"positive cells","titleFontSize":16,"titlePadding":4,"values":[0,10,20,30,40,50,60,70,80,90,100],"labelExpr":"datum.value%20==0?datum.label:''","labelFontSize":12.5,"labelPadding":2,"domain":false,"tickSize":{"condition":{"test":"datum.value%20!=0","value":2},"value":3},"tickWidth":0.8}}},
"layer":[
{"data":{"values":[{"f":1}]},"mark":{"type":"rect","filled":false,"color":"#a0a0a0","strokeWidth":1},"encoding":{"x":{"datum":3.3,"type":"quantitative"},"x2":{"datum":33000},"y":{"datum":0,"type":"quantitative"},"y2":{"datum":105}}},
{"data":{"name":"hist"},"transform":[{"filter":"datum.p=='K' && datum.s=='g'"}],"mark":{"type":"area","fill":"#d6d6d6","stroke":"#a6a6a6","strokeWidth":1},"encoding":{}},
{"data":{"name":"hist"},"transform":[{"filter":"datum.p=='K' && datum.s=='d'"}],"mark":{"type":"line","stroke":"black","strokeWidth":1.2,"strokeDash":[3,2]},"encoding":{}},
{"data":{"name":"hist"},"transform":[{"filter":"datum.p=='K' && datum.s=='s'"}],"mark":{"type":"line","stroke":"black","strokeWidth":1.2},"encoding":{}}]},
{"width":180,"height":130,"title":{"text":"L","dx":-56,"dy":19},"data":{"name":"bars"},"transform":[{"filter":"datum.p=='L'"}],"resolve":{"axis":{"x":"independent"}},
"layer":[
{"mark":{"type":"bar","stroke":"black","strokeWidth":1},"encoding":{"x":{"field":"g","type":"nominal","scale":{"domain":["ML","SP"],"paddingInner":0.373,"paddingOuter":0.25,"align":0.42},"axis":{"orient":"bottom","labels":false,"tickSize":3,"bandPosition":0.5,"title":"I₂","titleFontSize":14,"titleX":182,"titleY":14,"titleAlign":"left","titleBaseline":"middle"}},"xOffset":{"field":"t","type":"nominal","scale":{"domain":["-","+"],"paddingInner":0.29,"paddingOuter":0}},"y":{"field":"v","type":"quantitative","scale":{"domain":[0,2000],"range":[130,17],"nice":false},"axis":{"values":[0,500,1000,1500,2000],"format":"d","title":"RFU","titleFontSize":12,"titlePadding":9,"labelFontSize":14,"tickSize":3,"labelPadding":1}},"fill":{"field":"t","type":"nominal","scale":{"domain":["-","+"],"range":["white","#e2e2e2"]},"legend":null}}},
{"mark":{"type":"rule","color":"black","strokeWidth":1},"encoding":{"x":{"field":"g","type":"nominal","axis":null},"xOffset":{"field":"t","type":"nominal"},"y":{"field":"v","type":"quantitative","axis":{"values":[0,500,1000,1500,2000],"format":"d","title":"RFU","titleFontSize":12,"titlePadding":9,"labelFontSize":14,"tickSize":3,"labelPadding":1}},"y2":{"field":"e"}}},
{"mark":{"type":"tick","color":"black","thickness":1,"size":10},"encoding":{"x":{"field":"g","type":"nominal","axis":null},"xOffset":{"field":"t","type":"nominal"},"y":{"field":"e","type":"quantitative","axis":{"values":[0,500,1000,1500,2000],"format":"d","title":"RFU","titleFontSize":12,"titlePadding":9,"labelFontSize":14,"tickSize":3,"labelPadding":1}}}},
{"mark":{"type":"text","baseline":"middle","dy":-11,"fontSize":15,"fontWeight":"bold","font":"Liberation Serif"},"encoding":{"x":{"field":"g","type":"nominal","axis":null},"xOffset":{"field":"t","type":"nominal"},"y":{"field":"e","type":"quantitative","axis":{"values":[0,500,1000,1500,2000],"format":"d","title":"RFU","titleFontSize":12,"titlePadding":9,"labelFontSize":14,"tickSize":3,"labelPadding":1}},"text":{"field":"sig"}}},
{"mark":{"type":"text","baseline":"middle","dy":12,"fontSize":14,"fontWeight":"bold","font":"Liberation Serif"},"encoding":{"x":{"field":"g","type":"nominal","axis":{"orient":"bottom","offset":21,"domain":false,"ticks":true,"tickSize":1,"tickWidth":53,"tickCap":"butt","bandPosition":0.5,"labelAngle":-90,"labelAlign":"right","labelBaseline":"middle","labelPadding":7,"labelFontSize":12,"title":null}},"xOffset":{"field":"t","type":"nominal"},"y":{"datum":0,"type":"quantitative","axis":{"values":[0,500,1000,1500,2000],"format":"d","title":"RFU","titleFontSize":12,"titlePadding":9,"labelFontSize":14,"tickSize":3,"labelPadding":1}},"text":{"field":"t"}}}
]},
{"width":157,"height":1,"data":{"values":[{"label":"RFU"}]},
"layer":[
{"mark":{"type":"rule","color":"black","strokeWidth":3.5},"encoding":{"x":{"datum":2.7,"type":"quantitative","scale":{"domain":[0,100],"range":[0,374]},"axis":null},"x2":{"datum":98.6},"y":{"datum":1,"type":"quantitative","scale":{"domain":[0,1]},"axis":null}}},
{"mark":{"type":"point","shape":"M-2,-1L0,0L-2,1","filled":false,"stroke":"black","strokeWidth":3,"size":100,"opacity":1},"encoding":{"x":{"datum":100,"type":"quantitative"},"y":{"datum":1,"type":"quantitative"}}},
{"mark":{"type":"text","fontSize":12,"fontWeight":"bold","dy":6,"baseline":"middle","font":"Liberation Serif"},"encoding":{"x":{"datum":55.6,"type":"quantitative"},"y":{"datum":1,"type":"quantitative"},"text":{"field":"label"}}}
]}
],
"columns":3,
"spacing":{"row":35,"column":82},
"bounds":"flush",
"align":"none",
"config":{"font":"Liberation Serif","view":{"stroke":null},
"axis":{"labelFont":"Liberation Serif","labelFontWeight":"bold","labelColor":"black","titleFont":"Liberation Serif","titleFontWeight":"bold","titleColor":"black","tickColor":"black","domainColor":"black","grid":false,"labelOverlap":false},
"title":{"font":"Liberation Serif","fontWeight":"bold","fontSize":22,"anchor":"start","frame":"group","baseline":"alphabetic","offset":0,"color":"black"}}
}
